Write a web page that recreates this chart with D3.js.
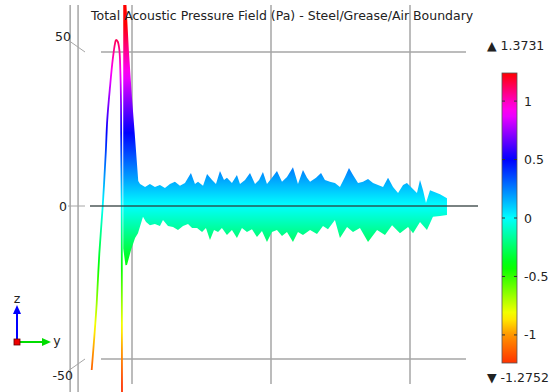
<!DOCTYPE html>
<html>
<head>
<meta charset="utf-8">
<script src="https://cdn.jsdelivr.net/npm/d3@7"></script>
<style>
  html, body { margin: 0; padding: 0; background: #fff; }
  svg { display: block; font-family: "DejaVu Sans", sans-serif; }
</style>
</head>
<body>
<svg id="chart" width="558" height="392"></svg>
<script>
// pressure along the boundary, shown as height (plot units), colour in Pa
const heightScale = 47.6;   // plot units per Pa

// slow first oscillation (thin line)
const linePos = [-2.90, -2.71, -2.54, -2.35, -2.11, -1.89, -1.78, -1.58, -1.39, -1.22, -1.15, -1.03, -0.91, -0.84, -0.79, -0.77, -0.74, -0.73, -0.72];
const lineVal = [-53.6, -42.7, -31.9, -15.6, -0.4, 17.0, 27.9, 38.7, 47.4, 52.8, 53.9, 53.4, 50.7, 44.1, 33.3, 17.0, -0.4, -30.8, -61.7];

// dense oscillation drawn as its envelope
const upperPos = [-0.63, -0.50, -0.40, -0.22, 0.00, 0.22, 0.45, 0.58, 0.94, 1.29, 1.65, 2.01, 2.37, 2.73, 3.09, 3.45, 3.81, 4.24, 4.53, 4.75, 5.11, 5.40, 5.76, 6.04, 6.33, 6.62, 6.83, 7.19, 7.55, 7.77, 8.13, 8.49, 8.85, 9.14, 9.42, 9.71, 10.07, 10.43, 10.79, 11.15, 11.58, 11.94, 12.30, 12.59, 12.81, 13.24, 13.60, 13.88, 14.24, 14.60, 14.96, 15.32, 15.61, 15.90, 16.26, 16.62, 16.98, 17.34, 17.70, 18.06, 18.42, 18.78, 19.14, 19.50, 19.78, 20.14, 20.50, 20.72, 20.94, 21.15, 21.44, 22.16, 22.66];
const upperVal = [66, 66.5, 65.3, 50, 35, 22, 8.0, 7.0, 6.0, 7.0, 6.0, 6.7, 5.7, 7.0, 7.7, 6.4, 7.3, 10.6, 7.0, 7.7, 6.4, 10.3, 8.3, 7.0, 11.2, 8.3, 9.0, 7.3, 9.9, 7.0, 8.3, 10.6, 7.0, 8.3, 10.9, 7.0, 9.0, 11.2, 7.7, 9.3, 12.5, 7.0, 11.6, 9.0, 7.7, 9.0, 10.6, 8.3, 7.7, 7.3, 6.0, 9.3, 12.2, 9.9, 7.3, 7.7, 8.6, 7.3, 6.7, 6.0, 9.0, 6.0, 4.1, 6.7, 7.3, 5.7, 4.1, 8.3, 5.0, 0.8, 5.0, 3.7, 2.4];
const lowerPos = [-0.63, -0.47, -0.36, -0.07, 0.22, 0.43, 0.79, 1.01, 1.29, 1.65, 2.01, 2.23, 2.59, 2.95, 3.31, 3.67, 4.03, 4.32, 4.68, 5.04, 5.32, 5.61, 5.90, 6.19, 6.47, 6.83, 7.19, 7.55, 7.91, 8.27, 8.63, 8.99, 9.35, 9.71, 10.07, 10.43, 10.79, 11.15, 11.58, 11.94, 12.30, 12.81, 13.31, 13.74, 14.10, 14.60, 14.96, 15.47, 15.90, 16.40, 16.98, 17.63, 18.20, 18.71, 19.28, 19.86, 20.22, 20.72, 21.22, 21.65, 22.16, 22.66];
const lowerVal = [-14, -19.5, -19.4, -14.5, -10.6, -9.0, -3.7, -5.4, -6.4, -6.0, -6.7, -4.7, -6.7, -7.0, -8.0, -6.7, -6.0, -7.3, -7.3, -8.6, -7.3, -11.2, -8.0, -8.6, -7.3, -9.6, -8.0, -10.6, -7.3, -8.6, -7.7, -10.3, -8.3, -11.9, -8.6, -8.0, -9.9, -8.6, -11.9, -8.6, -9.6, -8.0, -9.3, -6.7, -7.7, -4.7, -10.6, -7.0, -8.6, -7.3, -11.9, -8.0, -9.6, -6.4, -9.0, -7.0, -9.0, -5.4, -8.0, -3.7, -3.4, -3.1];

// axis / colour legend
const zTicks = [50, 0, -50];
const gridPos = [0, 10, 20];
const framePos = [-4.45, -3.88];
const cbTicks = [1, 0.5, 0, -0.5, -1];
const cbRange = [-1.24, 1.24];
const hueVals = [-1.24, -1, -0.5, 0, 0.5, 1, 1.24];
const hues = [12, 35, 108, 180, 240, 315, 360];
const maxLabel = "1.3731";
const minLabel = "-1.2752";
const title = "Total Acoustic Pressure Field (Pa) - Steel/Grease/Air Boundary";

const svg = d3.select('#chart');
const x = d3.scaleLinear().domain([0, 20]).range([132, 410]);
const y = d3.scaleLinear().domain([-50, 50]).range([359, 52]);
const hue = d3.scaleLinear().domain(hueVals).range(hues).clamp(true);
const colorOf = p => d3.hsl(hue(p), 1, 0.5).toString();

const defs = svg.append('defs');
function addGradient(id, y1, y2) {
  const g = defs.append('linearGradient').attr('id', id)
    .attr('gradientUnits', 'userSpaceOnUse')
    .attr('x1', 0).attr('x2', 0).attr('y1', y1).attr('y2', y2);
  const n = 40;
  for (let i = 0; i <= n; i++) {
    const p = cbRange[1] - (cbRange[1] - cbRange[0]) * i / n;
    g.append('stop').attr('offset', i / n).attr('stop-color', colorOf(p));
  }
}
addGradient('plotGrad', y(cbRange[1] * heightScale), y(cbRange[0] * heightScale));
defs.append('clipPath').attr('id', 'clip')
  .append('rect').attr('x', 0).attr('y', 5).attr('width', 480).attr('height', 387);

const grid = '#a6a6a6';

// frame and grid lines
svg.selectAll('.frame').data(framePos).enter().append('line')
  .attr('x1', d => x(d)).attr('x2', d => x(d)).attr('y1', 5).attr('y2', 392)
  .attr('stroke', grid).attr('stroke-width', 1.5);
svg.selectAll('.vgrid').data(gridPos).enter().append('line')
  .attr('x1', d => x(d)).attr('x2', d => x(d)).attr('y1', 5).attr('y2', 384)
  .attr('stroke', grid).attr('stroke-width', 1.5);
svg.selectAll('.hgrid').data(zTicks.filter(d => d !== 0)).enter().append('line')
  .attr('x1', 101).attr('x2', 466).attr('y1', d => y(d)).attr('y2', d => y(d))
  .attr('stroke', grid).attr('stroke-width', 1.5);

// z tick labels with perspective tick marks
svg.selectAll('.ztick').data(zTicks).enter().append('line')
  .attr('x1', 68).attr('y1', d => y(d) - 12 * d / 50 + (d === 0 ? 0.5 : 0))
  .attr('x2', 85).attr('y2', d => y(d) + (d === 0 ? 0.5 : 0))
  .attr('stroke', grid).attr('stroke-width', 1);
svg.selectAll('.zlab').data(zTicks).enter().append('text')
  .attr('x', d => d === 0 ? 67 : (d > 0 ? 71 : 73))
  .attr('y', d => y(d) - 16 * d / 50 + 0.5)
  .attr('text-anchor', 'end').attr('dominant-baseline', 'central')
  .attr('font-size', 12.5).attr('fill', '#222')
  .text(d => d);

// plotted signal
const plot = svg.append('g').attr('clip-path', 'url(#clip)');
const env = upperPos.map((p, i) => [p, upperVal[i]])
  .concat(lowerPos.map((p, i) => [p, lowerVal[i]]).reverse());
plot.append('path')
  .attr('d', d3.line().x(d => x(d[0])).y(d => y(d[1]))(env) + 'Z')
  .attr('fill', 'url(#plotGrad)');
plot.append('path')
  .attr('d', d3.line().curve(d3.curveCatmullRom.alpha(0.5))
    .x(d => x(d[0])).y(d => y(d[1]))(linePos.map((p, i) => [p, lineVal[i]])))
  .attr('fill', 'none').attr('stroke', 'url(#plotGrad)').attr('stroke-width', 1.8);

// zero axis line
svg.append('line').attr('x1', 90).attr('x2', 478).attr('y1', y(0) + 0.5).attr('y2', y(0) + 0.5)
  .attr('stroke', '#2e3b3b').attr('stroke-opacity', 0.85).attr('stroke-width', 1.5);

// title
svg.append('text').attr('x', 91).attr('y', 20)
  .attr('font-size', 12.5).attr('fill', '#222').text(title);

// colour bar
const cb = d3.scaleLinear().domain(cbRange).range([363, 73]);
addGradient('cbGrad', cb(cbRange[1]), cb(cbRange[0]));
svg.append('rect').attr('x', 502).attr('y', cb(cbRange[1]))
  .attr('width', 15).attr('height', cb(cbRange[0]) - cb(cbRange[1]))
  .attr('fill', 'url(#cbGrad)').attr('stroke', '#555').attr('stroke-width', 0.8);
svg.selectAll('.cbt').data(cbTicks).enter().append('path')
  .attr('d', d => `M502,${cb(d)}h3M517,${cb(d)}h-3`)
  .attr('stroke', '#333').attr('stroke-width', 1);
svg.selectAll('.cbl').data(cbTicks).enter().append('text')
  .attr('x', 524).attr('y', d => cb(d)).attr('dominant-baseline', 'central')
  .attr('font-size', 12.5).attr('fill', '#222').text(d => d);
svg.append('text').attr('x', 487).attr('y', 45).attr('dominant-baseline', 'central')
  .attr('font-size', 12.5).attr('fill', '#222').text('\u25B2 ' + maxLabel);
svg.append('text').attr('x', 487).attr('y', 377).attr('dominant-baseline', 'central')
  .attr('font-size', 12.5).attr('fill', '#222').text('\u25BC ' + minLabel);

// axis triad
const tri = svg.append('g');
tri.append('line').attr('x1', 17).attr('y1', 342).attr('x2', 17).attr('y2', 313)
  .attr('stroke', '#0000ff').attr('stroke-width', 2);
tri.append('path').attr('d', 'M13,314 L17,305 L21,314 Z').attr('fill', '#0000ff');
tri.append('line').attr('x1', 17).attr('y1', 342).attr('x2', 43).attr('y2', 342)
  .attr('stroke', '#00dd00').attr('stroke-width', 2);
tri.append('path').attr('d', 'M42,338 L51,342 L42,346 Z').attr('fill', '#00dd00');
tri.append('rect').attr('x', 14).attr('y', 339).attr('width', 6).attr('height', 6)
  .attr('fill', '#ee0000').attr('stroke', '#600').attr('stroke-width', 0.8);
tri.append('text').attr('x', 17).attr('y', 298).attr('text-anchor', 'middle')
  .attr('dominant-baseline', 'central').attr('font-size', 12.5).attr('fill', '#222').text('z');
tri.append('text').attr('x', 57).attr('y', 340).attr('text-anchor', 'middle')
  .attr('dominant-baseline', 'central').attr('font-size', 12.5).attr('fill', '#222').text('y');
</script>
</body>
</html>
